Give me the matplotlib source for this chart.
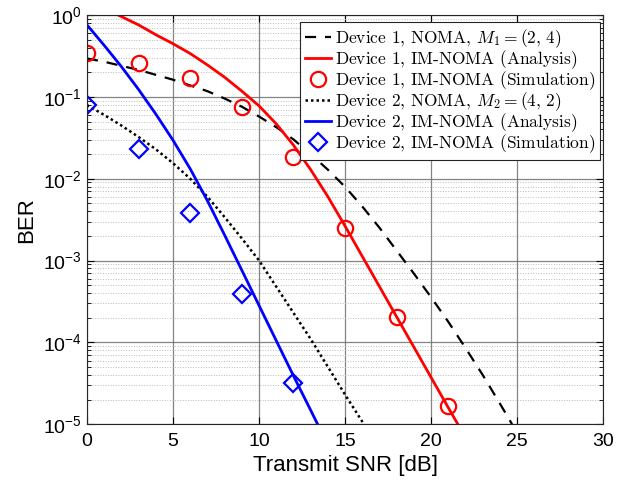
import numpy as np
import matplotlib
matplotlib.use("Agg")
import matplotlib.pyplot as plt
from matplotlib.ticker import LogLocator, MultipleLocator, NullFormatter

plt.rcParams["font.family"] = ["Liberation Sans", "DejaVu Sans"]
plt.rcParams["mathtext.fontset"] = "cm"

# Device 1, NOMA (dashed) -- log10(BER)
snr_d1_noma = [0, 1, 2, 3, 4, 5, 6, 7, 8, 9, 10, 11, 12, 13, 14, 15, 16, 17,
               18, 19, 20, 21, 22, 23, 24, 24.7]
log_d1_noma = [-0.53, -0.57, -0.62, -0.67, -0.73, -0.79, -0.86, -0.93, -1.02,
               -1.12, -1.24, -1.37, -1.52, -1.70, -1.89, -2.10, -2.34, -2.60,
               -2.88, -3.16, -3.45, -3.75, -4.07, -4.40, -4.75, -5.0]

# Device 1, IM-NOMA analysis
snr_d1_ana = [1.82, 3, 4, 5, 6, 7, 8, 9, 10, 11, 12, 13, 14, 15, 16, 17, 18,
              19, 20, 21, 21.55]
log_d1_ana = [0.0, -0.12, -0.24, -0.35, -0.47, -0.61, -0.76, -0.93, -1.11,
              -1.33, -1.59, -1.89, -2.22, -2.58, -2.95, -3.32, -3.69, -4.06,
              -4.43, -4.80, -5.0]

# Device 1, IM-NOMA simulation
snr_d1_sim = [0, 3, 6, 9, 12, 15, 18, 21]
log_d1_sim = [-0.46, -0.58, -0.77, -1.125, -1.73, -2.6, -3.69, -4.78]

# Device 2, NOMA (dotted)
snr_d2_noma = [0, 1, 2, 3, 4, 5, 6, 7, 8, 9, 10, 11, 12, 13, 14, 15, 16, 16.1]
log_d2_noma = [-1.1, -1.22, -1.35, -1.49, -1.64, -1.81, -2.0, -2.22, -2.47,
               -2.73, -3.0, -3.32, -3.64, -3.96, -4.30, -4.64, -4.97, -5.0]

# Device 2, IM-NOMA analysis
snr_d2_ana = [0, 1, 2, 3, 4, 5, 6, 7, 8, 9, 10, 11, 12, 13, 13.4]
log_d2_ana = [-0.12, -0.37, -0.63, -0.91, -1.21, -1.53, -1.88, -2.27, -2.69,
              -3.12, -3.55, -3.98, -4.41, -4.83, -5.0]

# Device 2, IM-NOMA simulation
snr_d2_sim = [0, 3, 6, 9, 12]
log_d2_sim = [-1.1, -1.64, -2.42, -3.41, -4.50]

labels = [
    r"$\text{Device 1, NOMA, }M_1 = (2,\, 4)$",
    r"$\text{Device 1, IM-NOMA (Analysis)}$",
    r"$\text{Device 1, IM-NOMA (Simulation)}$",
    r"$\text{Device 2, NOMA, }M_2 = (4,\, 2)$",
    r"$\text{Device 2, IM-NOMA (Analysis)}$",
    r"$\text{Device 2, IM-NOMA (Simulation)}$",
]

fig = plt.figure(figsize=(6.35, 4.87), dpi=100)
ax = fig.add_axes([0.137, 0.129, 0.813, 0.840])

pw = lambda v: 10.0 ** np.asarray(v)

ax.plot(snr_d1_noma, pw(log_d1_noma), color="k", ls=(0, (5, 4)), lw=1.6, label=labels[0])
ax.plot(snr_d1_ana, pw(log_d1_ana), color="#ff0000", lw=2.0, label=labels[1])
ax.plot(snr_d1_sim, pw(log_d1_sim), ls="none", marker="o", ms=11, mfc="none",
        mec="#ff0000", mew=1.6, label=labels[2])
ax.plot(snr_d2_noma, pw(log_d2_noma), color="k", ls=(0, (1, 1.2)), lw=1.8, label=labels[3])
ax.plot(snr_d2_ana, pw(log_d2_ana), color="#0000ff", lw=2.0, label=labels[4])
ax.plot(snr_d2_sim, pw(log_d2_sim), ls="none", marker="D", ms=9, mfc="none",
        mec="#0000ff", mew=1.6, label=labels[5])

ax.set_yscale("log")
ax.set_xlim(0, 30)
ax.set_ylim(1e-5, 1)
ax.xaxis.set_major_locator(MultipleLocator(5))
ax.yaxis.set_major_locator(LogLocator(base=10, numticks=10))
ax.yaxis.set_minor_locator(LogLocator(base=10, subs=np.arange(2, 10), numticks=10))
ax.yaxis.set_minor_formatter(NullFormatter())

ax.grid(True, which="major", color="#777777", lw=0.9, alpha=0.9)
ax.grid(True, which="minor", axis="y", color="#bbbbbb", ls=":", lw=0.7)
ax.set_axisbelow(True)

ax.tick_params(which="both", direction="in", top=True, right=True, labelsize=14)
ax.tick_params(axis="x", pad=6)
ax.tick_params(which="major", length=5)
ax.tick_params(which="minor", length=3)
for s in ax.spines.values():
    s.set_color("#262626")
    s.set_linewidth(0.8)

ax.set_xlabel("Transmit SNR [dB]", fontsize=16, labelpad=4)
ax.set_ylabel("BER", fontsize=16, labelpad=4)

leg = ax.legend(loc="upper right", bbox_to_anchor=(0.994, 0.983), fontsize=12.5,
                handlelength=1.5, handletextpad=0.2, labelspacing=-0.1,
                borderpad=0.3, borderaxespad=0.0,
                fancybox=False, framealpha=1, edgecolor="#262626")
leg.get_frame().set_linewidth(0.8)

fig.savefig("out.png", dpi=100)
